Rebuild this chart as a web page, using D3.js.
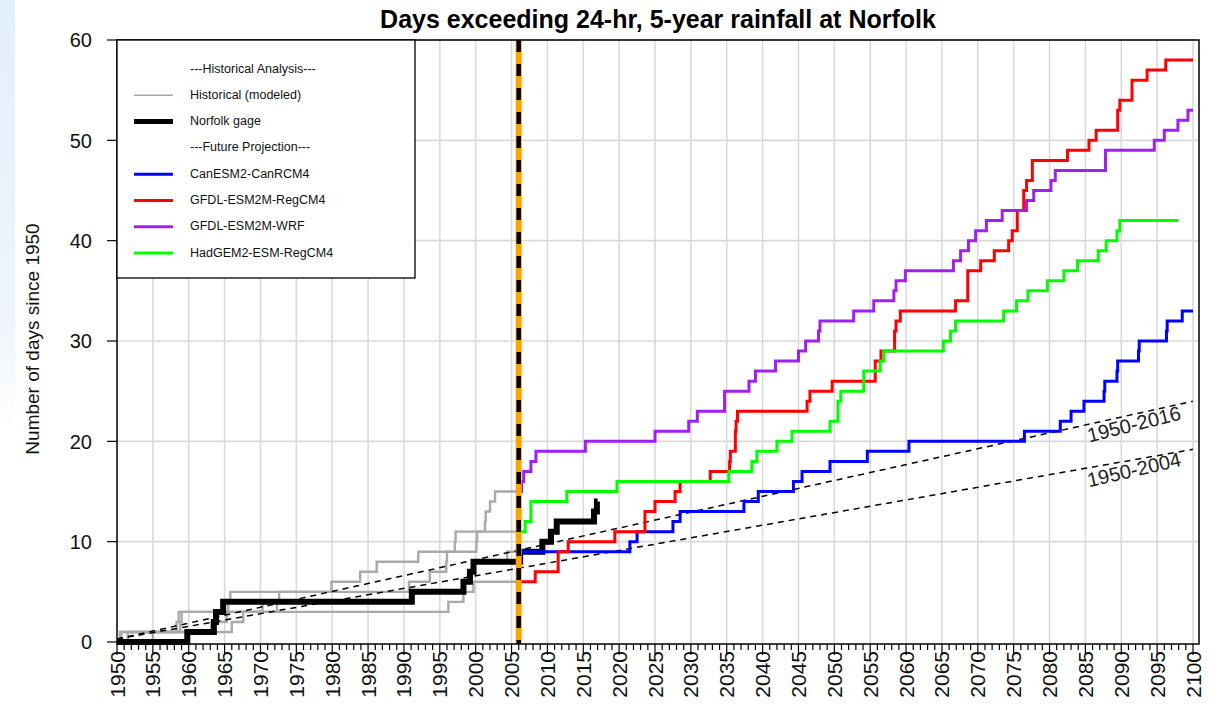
<!DOCTYPE html>
<html>
<head>
<meta charset="utf-8">
<script src="https://cdn.jsdelivr.net/npm/d3@7"></script>
<style>
  html, body { margin: 0; padding: 0; background: #fff; }
  svg { display: block; font-family: Arial, "Liberation Sans", sans-serif; }
</style>
</head>
<body>
<svg id="chart"></svg>
<script>
// ---- data: [year, cumulative days] (step after) ----
const histModeled1 = [[1950,0],[1950.6,1],[1958.3,2],[1958.6,3],[1972.3,4],[1972.6,5],[1979.9,6],[1983.9,7],[1986.2,8],[1992,9],[1997.1,10],[1997.2,11],[2001.3,12],[2001.4,13],[2002,14],[2002.7,15],[2006,15]];
const histModeled2 = [[1950,0],[1951.5,1],[1963.2,2],[1965.3,3],[1965.5,4],[1965.8,5],[1990.7,6],[1993.6,7],[1995.9,8],[1996,9],[2000.1,10],[2000.2,11],[2006,11]];
const histModeled3 = [[1950,0],[1955,1],[1966,2],[1967.6,3],[1970.3,4],[1991.2,5],[1998.3,6],[1999.2,7],[1999.8,8],[2004.4,9],[2006,9]];
const histModeled4 = [[1950,0],[1950.4,1],[1958.8,2],[1959,3],[1996.2,4],[1998.3,5],[1999.7,6],[2006,6]];

const norfolkGage = [[1950,0],[1959.8,1],[1963.5,2],[1963.8,3],[1964.8,4],[1991.1,5],[1998.3,6],[1999.2,7],[1999.7,8],[2006.2,9],[2009.3,10],[2010.5,11],[2011.3,12],[2016.5,13],[2016.9,14],[2017,14]];

const canESM2 = [[2005.6,9],[2021.5,10],[2022.5,11],[2027.5,12],[2028.5,13],[2037.4,14],[2039.4,15],[2044.3,16],[2045.5,17],[2049.4,18],[2054.6,19],[2060.4,20],[2076.5,21],[2081.5,22],[2083,23],[2084.8,24],[2087.6,25],[2087.7,26],[2089.4,27],[2089.5,28],[2092.4,29],[2092.5,30],[2096.3,31],[2096.4,32],[2098.5,33],[2100,33]];
const gfdlRegCM4 = [[2005.6,6],[2008.3,7],[2011.5,9],[2012.9,10],[2019.4,11],[2023.6,13],[2025,14],[2027.8,15],[2028.5,16],[2032.7,17],[2035.4,18],[2035.5,19],[2036.2,21],[2036.3,22],[2036.5,23],[2046.2,24],[2046.6,25],[2049.7,26],[2055.7,28],[2056.5,29],[2058.4,31],[2058.6,32],[2059.2,33],[2066.9,34],[2068.6,37],[2070.4,38],[2072.3,39],[2074.3,40],[2074.8,41],[2075.5,43],[2076.4,45],[2076.8,46],[2077.6,48],[2082.5,49],[2085.5,50],[2086.5,51],[2089.5,53],[2089.8,54],[2091.5,56],[2093.6,57],[2096.2,58],[2100,58]];
const gfdlWRF = [[2005.6,15],[2006.4,16],[2006.7,17],[2007.7,18],[2008.4,19],[2015.3,20],[2025,21],[2029.7,22],[2030.9,23],[2034.7,25],[2038.1,26],[2039,27],[2041.8,28],[2045,29],[2046,30],[2047.8,31],[2048,32],[2052.7,33],[2055.5,34],[2058.3,35],[2058.6,36],[2059.9,37],[2066.6,38],[2067.6,39],[2068.7,40],[2069.7,41],[2071.2,42],[2073.4,43],[2076.8,44],[2077.8,45],[2080.2,46],[2080.8,47],[2087.8,49],[2094.6,50],[2096,51],[2097.9,52],[2099.3,53],[2100,53]];
const hadGEM2 = [[2005.6,11],[2006.9,12],[2007.7,14],[2012.7,15],[2019.7,16],[2035.3,17],[2038.5,18],[2039.2,19],[2042,20],[2044.1,21],[2049.4,22],[2050.5,24],[2050.9,25],[2054.1,27],[2056.4,28],[2056.9,29],[2065.2,30],[2066.2,31],[2066.9,32],[2073.6,33],[2075.4,34],[2077,35],[2079.7,36],[2082,37],[2083.9,38],[2086.8,39],[2087.9,40],[2089.4,41],[2089.8,42],[2098,42]];

// linear trends of the observed record
const trendYears = [1950, 2100];
const trend1950to2016 = [0.3, 24.0];
const trend1950to2004 = [0.3, 19.2];
const trendLabels = ["1950-2016", "1950-2004"];

const splitYear = 2006;

const legendLabels = ["---Historical Analysis---", "Historical (modeled)", "Norfolk gage", "---Future Projection---",
  "CanESM2-CanRCM4", "GFDL-ESM2M-RegCM4", "GFDL-ESM2M-WRF", "HadGEM2-ESM-RegCM4"];

const yTicks = [0, 10, 20, 30, 40, 50, 60];
const xMajorTicks = d3.range(1950, 2101, 5);
const xMinorTicks = d3.range(1950, 2101, 1);

// ---- layout ----
const W = 1217, H = 718;
const svg = d3.select("#chart").attr("width", W).attr("height", H);

// faint blue strip at the left edge of the screenshot
const defs = svg.append("defs");
const grad = defs.append("linearGradient").attr("id", "edge").attr("x1", 0).attr("y1", 0).attr("x2", 0).attr("y2", 1);
grad.append("stop").attr("offset", "0%").attr("stop-color", "#e3effb");
grad.append("stop").attr("offset", "45%").attr("stop-color", "#eef5fc");
grad.append("stop").attr("offset", "60%").attr("stop-color", "#ffffff");
svg.append("rect").attr("x", 0).attr("y", 0).attr("width", 15).attr("height", H).attr("fill", "url(#edge)");

const x = d3.scaleLinear().domain([1950, 2100]).range([117, 1193]);
const y = d3.scaleLinear().domain([0, 60]).range([642, 40]);
const plotRight = 1199, plotBottom = 644, plotTop = 40, plotLeft = 117;

// grid
svg.append("g").selectAll("line").data(xMajorTicks.slice(1)).join("line")
  .attr("x1", d => x(d)).attr("x2", d => x(d)).attr("y1", plotTop).attr("y2", plotBottom)
  .attr("stroke", "#dadada").attr("stroke-width", 1.6);
svg.append("g").selectAll("line").data(yTicks.slice(1)).join("line")
  .attr("x1", plotLeft).attr("x2", plotRight).attr("y1", d => y(d)).attr("y2", d => y(d))
  .attr("stroke", "#dadada").attr("stroke-width", 1.6);

const step = d3.line().x(d => x(d[0])).y(d => y(d[1])).curve(d3.curveStepAfter);

// historical modeled
[histModeled1, histModeled2, histModeled3, histModeled4].forEach(s => {
  svg.append("path").datum(s).attr("d", step).attr("fill", "none")
    .attr("stroke", "#a9a9a9").attr("stroke-width", 2.4);
});

// trend lines
const trendLine = d3.line().x(d => x(d[0])).y(d => y(d[1]));
[trend1950to2016, trend1950to2004].forEach(v => {
  svg.append("path").datum(trendYears.map((t, i) => [t, v[i]])).attr("d", trendLine)
    .attr("fill", "none").attr("stroke", "#000").attr("stroke-width", 1.5).attr("stroke-dasharray", "6,5");
});

// gage
svg.append("path").datum(norfolkGage).attr("d", step).attr("fill", "none")
  .attr("stroke", "#000").attr("stroke-width", 6);

// projections
const projections = [[canESM2, "#0000ff"], [gfdlRegCM4, "#ff0000"], [gfdlWRF, "#a020f0"], [hadGEM2, "#00ff00"]];
projections.forEach(([s, c]) => {
  svg.append("path").datum(s).attr("d", step).attr("fill", "none")
    .attr("stroke", c).attr("stroke-width", 3);
});

// 2006 divider
svg.append("line").attr("x1", x(splitYear)).attr("x2", x(splitYear)).attr("y1", plotTop).attr("y2", plotBottom)
  .attr("stroke", "#ffa500").attr("stroke-width", 6);
svg.append("line").attr("x1", x(splitYear)).attr("x2", x(splitYear)).attr("y1", plotTop).attr("y2", plotBottom)
  .attr("stroke", "#000").attr("stroke-width", 4.5).attr("stroke-dasharray", "12,12");

// trend labels
const labelAt = [[2092, trend1950to2016, -14], [2092, trend1950to2004, -13]];
labelAt.forEach(([yr, v, ang], i) => {
  const val = v[0] + (v[1] - v[0]) * (yr - trendYears[0]) / (trendYears[1] - trendYears[0]);
  svg.append("text")
    .attr("transform", `translate(${x(yr)},${y(val) + 17}) rotate(${ang})`)
    .attr("text-anchor", "middle").attr("font-size", 20).attr("fill", "#222")
    .text(trendLabels[i]);
});

// box
svg.append("rect").attr("x", plotLeft).attr("y", plotTop).attr("width", plotRight - plotLeft).attr("height", plotBottom - plotTop)
  .attr("fill", "none").attr("stroke", "#000").attr("stroke-width", 1.5);

// y axis
const yAxis = svg.append("g");
yAxis.selectAll("line").data(yTicks).join("line")
  .attr("x1", plotLeft - 10).attr("x2", plotLeft).attr("y1", d => y(d)).attr("y2", d => y(d))
  .attr("stroke", "#000").attr("stroke-width", 1.2);
yAxis.selectAll("text").data(yTicks).join("text")
  .attr("x", 92).attr("y", d => y(d)).attr("dy", "0.36em").attr("text-anchor", "end")
  .attr("font-size", 20).attr("fill", "#111").text(d => d);

// x axis
const xAxis = svg.append("g");
xAxis.selectAll("line.minor").data(xMinorTicks).join("line").attr("class", "minor")
  .attr("x1", d => x(d)).attr("x2", d => x(d)).attr("y1", plotBottom).attr("y2", d => plotBottom + (d % 5 === 0 ? 11 : 6))
  .attr("stroke", "#000").attr("stroke-width", 1.2);
xAxis.selectAll("text").data(xMajorTicks).join("text")
  .attr("transform", d => `translate(${x(d)},651) rotate(-90)`)
  .attr("dy", "0.36em").attr("text-anchor", "end")
  .attr("font-size", 21).attr("fill", "#111").text(d => d);

// titles
svg.append("text").attr("x", 658).attr("y", 28).attr("text-anchor", "middle")
  .attr("font-size", 25).attr("font-weight", "bold").attr("fill", "#000")
  .text("Days exceeding 24-hr, 5-year rainfall at Norfolk");
svg.append("text").attr("transform", "translate(39,339) rotate(-90)").attr("text-anchor", "middle")
  .attr("font-size", 19).attr("fill", "#111").text("Number of days since 1950");

// legend
const legend = svg.append("g");
legend.append("rect").attr("x", plotLeft).attr("y", plotTop).attr("width", 298).attr("height", 238)
  .attr("fill", "#fff").attr("stroke", "#000").attr("stroke-width", 1.3);
const legendStyle = [null, ["#a9a9a9", 1.5], ["#000", 5], null, ["#0000ff", 3], ["#ff0000", 3], ["#a020f0", 3], ["#00ff00", 3]];
legendLabels.forEach((lab, i) => {
  const ly = 68 + i * 26.3;
  if (legendStyle[i]) {
    legend.append("line").attr("x1", 134).attr("x2", 173).attr("y1", ly + 1).attr("y2", ly + 1)
      .attr("stroke", legendStyle[i][0]).attr("stroke-width", legendStyle[i][1]);
  }
  legend.append("text").attr("x", 190).attr("y", ly).attr("dy", "0.36em")
    .attr("font-size", 12.5).attr("fill", "#111").text(lab);
});
</script>
</body>
</html>
